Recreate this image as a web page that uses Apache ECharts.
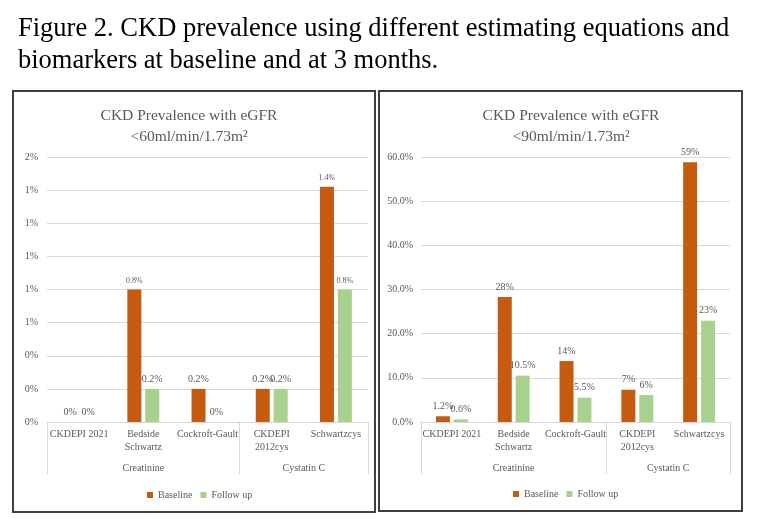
<!DOCTYPE html>
<html>
<head>
<meta charset="utf-8">
<script src="https://cdn.jsdelivr.net/npm/echarts@6/dist/echarts.min.js"></script>
<style>html,body{margin:0;padding:0;background:#fff;}#c{width:780px;height:529px;}</style>
</head>
<body>
<div id="c"></div>
<script>
// ---- data ----
const categories = ['CKDEPI 2021', 'Bedside\nSchwartz', 'Cockroft-Gault', 'CKDEPI\n2012cys', 'Schwartzcys'];
const groupNames = ['Creatinine', 'Cystatin C'];
const groupSizes = [3, 2];
const seriesNames = ['Baseline', 'Follow up'];

const lt60Baseline = [0, 0.8, 0.2, 0.2, 1.42];
const lt60FollowUp = [0, 0.2, 0, 0.2, 0.8];
const lt60BaselineLabels = ['0%', '0.8%', '0.2%', '0.2%', '1.4%'];
const lt60FollowUpLabels = ['0%', '0.2%', '0%', '0.2%', '0.8%'];

const lt90Baseline = [1.3, 28.3, 13.8, 7.3, 58.8];
const lt90FollowUp = [0.6, 10.5, 5.5, 6.1, 22.9];
const lt90BaselineLabels = ['1.2%', '28%', '14%', '7%', '59%'];
const lt90FollowUpLabels = ['0.6%', '10.5%', '5.5%', '6%', '23%'];

const lt60Axis = { min: 0, max: 1.6, interval: 0.2 };
const lt90Axis = { min: 0, max: 60, interval: 10 };

const titleMain = 'Figure 2. CKD prevalence using different estimating equations and\nbiomarkers at baseline and at 3 months.';
const titleLeft = 'CKD Prevalence with eGFR\n<60ml/min/1.73m²';
const titleRight = 'CKD Prevalence with eGFR\n<90ml/min/1.73m²';

// ---- derived ----
const boundaries = [0];
groupSizes.forEach(s => boundaries.push(boundaries[boundaries.length - 1] + s));
const centers = groupSizes.map((s, i) => boundaries[i] + s / 2);

const FONT = 'Liberation Serif';
const GRAY = '#595959';
const LINE = '#D9D9D9';
const COLORS = ['#C55A11', '#A9D18E'];

function primaryX(gridIndex) {
  return {
    type: 'category', gridIndex, data: categories,
    axisLine: { show: true, lineStyle: { color: LINE } },
    axisTick: { show: false },
    axisLabel: { interval: 0, fontFamily: FONT, fontSize: 10, lineHeight: 13, color: GRAY, margin: 6 }
  };
}
function groupX(gridIndex) {
  return {
    type: 'value', gridIndex, min: 0, max: categories.length, position: 'bottom',
    axisLine: { show: false },
    splitLine: { show: false },
    axisTick: { show: true, customValues: boundaries, length: 52, lineStyle: { color: LINE } },
    axisLabel: {
      customValues: centers, fontFamily: FONT, fontSize: 10, color: GRAY, margin: 41,
      formatter: v => groupNames[centers.indexOf(v)] || ''
    }
  };
}
function valueY(gridIndex, ax, fmt, margin) {
  return {
    type: 'value', gridIndex, min: ax.min, max: ax.max, interval: ax.interval,
    axisLine: { show: false }, axisTick: { show: false },
    splitLine: { lineStyle: { color: LINE } },
    axisLabel: { fontFamily: FONT, fontSize: 10, color: GRAY, margin, formatter: fmt }
  };
}
function barSeries(name, idx, vals, labels, xi, yi, sizeFn) {
  return {
    type: 'bar', name, xAxisIndex: xi, yAxisIndex: yi,
    barWidth: 14, barGap: '28%',
    itemStyle: { color: COLORS[idx] },
    data: vals.map(v => ({ value: v, label: { fontSize: sizeFn(v) } })),
    label: {
      show: true, position: 'top', distance: 5, fontFamily: FONT, color: GRAY,
      formatter: p => labels[p.dataIndex]
    }
  };
}

const chart = echarts.init(document.getElementById('c'), null, { renderer: 'canvas' });
const leftSize = v => (v > 0.5 ? 8 : 10);
const rightSize = () => 10;

chart.setOption({
  animation: false,
  backgroundColor: '#fff',
  title: [
    { text: titleMain, left: 18, top: 13, padding: 0, textStyle: { fontFamily: FONT, fontSize: 26.5, fontWeight: 'normal', color: '#000', lineHeight: 32 } },
    { text: titleLeft, left: 184, top: 100, textAlign: 'center', textStyle: { fontFamily: FONT, fontSize: 15.5, fontWeight: 'normal', color: GRAY, lineHeight: 21 } },
    { text: titleRight, left: 566, top: 100, textAlign: 'center', textStyle: { fontFamily: FONT, fontSize: 15.5, fontWeight: 'normal', color: GRAY, lineHeight: 21 } }
  ],
  legend: [
    { data: seriesNames, left: 142, top: 485, icon: 'rect', itemWidth: 6, itemHeight: 6, itemGap: 8,
      textStyle: { fontFamily: FONT, fontSize: 10, color: GRAY } },
    { data: seriesNames, left: 508, top: 484, icon: 'rect', itemWidth: 6, itemHeight: 6, itemGap: 8,
      textStyle: { fontFamily: FONT, fontSize: 10, color: GRAY } }
  ],
  grid: [
    { left: 47, right: 412, top: 157, bottom: 107 },
    { left: 421, right: 50, top: 157, bottom: 107 }
  ],
  xAxis: [primaryX(0), groupX(0), primaryX(1), groupX(1)],
  yAxis: [
    valueY(0, lt60Axis, v => Math.round(v) + '%', 9),
    valueY(1, lt90Axis, v => v.toFixed(1) + '%', 8)
  ],
  series: [
    barSeries(seriesNames[0], 0, lt60Baseline, lt60BaselineLabels, 0, 0, leftSize),
    barSeries(seriesNames[1], 1, lt60FollowUp, lt60FollowUpLabels, 0, 0, leftSize),
    barSeries(seriesNames[0], 0, lt90Baseline, lt90BaselineLabels, 2, 1, rightSize),
    barSeries(seriesNames[1], 1, lt90FollowUp, lt90FollowUpLabels, 2, 1, rightSize)
  ],
  graphic: [
    { type: 'rect', shape: { x: 13, y: 91, width: 362, height: 421 }, style: { fill: 'none', stroke: '#404040', lineWidth: 2 }, silent: true },
    { type: 'rect', shape: { x: 379, y: 91, width: 363, height: 420 }, style: { fill: 'none', stroke: '#404040', lineWidth: 2 }, silent: true }
  ]
});
</script>
</body>
</html>
